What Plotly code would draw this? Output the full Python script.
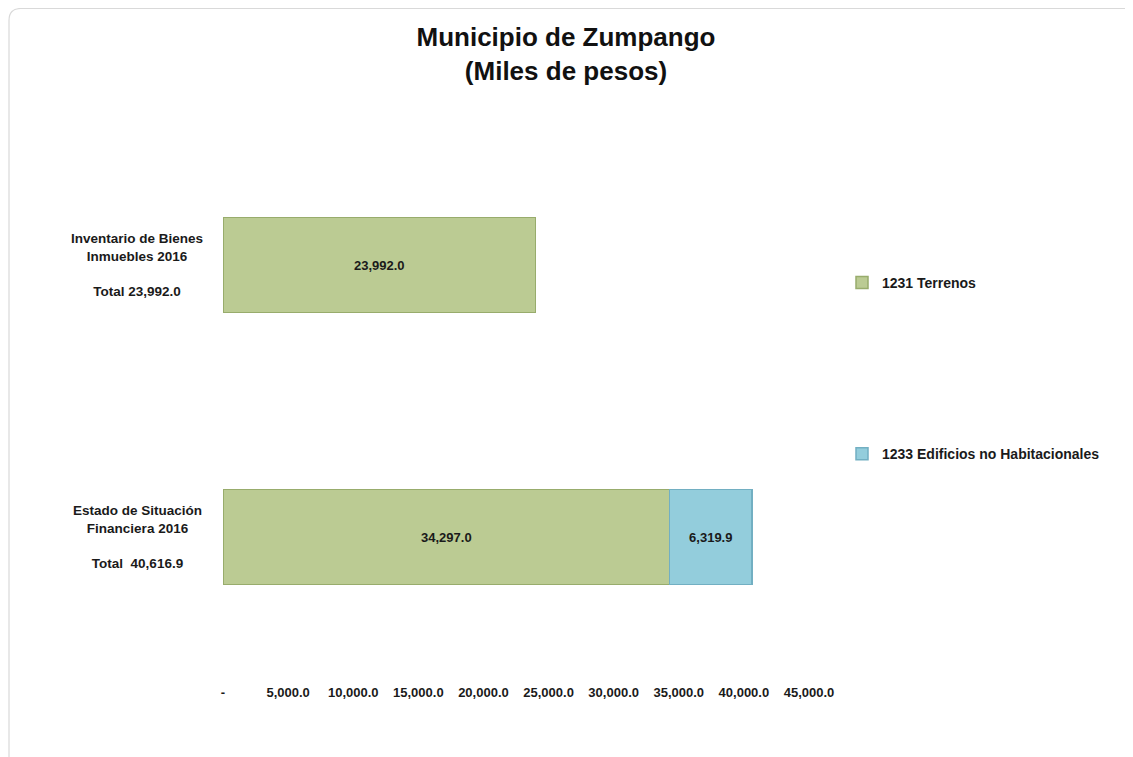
import plotly.graph_objects as go

# ---- data ----
categories = ["Inventario de Bienes<br>Inmuebles 2016", "Estado de Situación<br>Financiera 2016"]
terrenos = [23992.0, 34297.0]
edificios = [None, 6319.9]
series_names = ["1231 Terrenos", "1233 Edificios no Habitacionales"]
tick_vals = [0, 5000, 10000, 15000, 20000, 25000, 30000, 35000, 40000, 45000]
tick_labels = ["-", "5,000.0", "10,000.0", "15,000.0", "20,000.0", "25,000.0",
               "30,000.0", "35,000.0", "40,000.0", "45,000.0"]
total_prefix = ["Total ", "Total  "]

W, H = 1133, 757
OFF = 8  # page body margin offset
L, R, T, B = 223 - OFF, W - (809 - OFF), 129 - OFF, H - (673 - OFF)
pw, ph = W - L - R, H - T - B

FONT = "Liberation Sans Narrow, Arial Narrow, Liberation Sans, Arial, sans-serif"

green = "#BBCB93"
green_edge = "#98AC6C"
blue = "#93CDDC"
blue_edge = "#72AFC2"

fig = go.Figure()
fig.add_trace(go.Bar(
    y=categories, x=terrenos, orientation="h", name="<b>" + series_names[0] + "</b>",
    legendgroup="a",
    marker=dict(color=green, line=dict(color=green_edge, width=1.5)),
    texttemplate="<b>%{x:,.1f}</b>", textposition="inside", insidetextanchor="middle",
    textangle=0, textfont=dict(family=FONT, size=13, color="#1a1a1a"),
))
fig.add_trace(go.Bar(
    y=categories, x=edificios, orientation="h", name="<b>" + series_names[1] + "</b>",
    legendgroup="b",
    marker=dict(color=blue, line=dict(color=blue_edge, width=1.5)),
    texttemplate="<b>%{x:,.1f}</b>", textposition="inside", insidetextanchor="middle",
    textangle=0, textfont=dict(family=FONT, size=13, color="#1a1a1a"),
))

# category labels with totals (centered multi-line)
annotations = []
for i, cat in enumerate(categories):
    tot = (terrenos[i] or 0) + (edificios[i] or 0)
    txt = "<b>" + cat + "<br><br>" + total_prefix[i] + f"{tot:,.1f}" + "</b>"
    annotations.append(dict(
        x=(137 - OFF - L) / pw, xref="paper", y=cat, yref="y",
        text=txt, showarrow=False, align="center", xanchor="center", yanchor="middle",
        font=dict(family=FONT, size=13.5, color="#1a1a1a"),
    ))

# card border (rounded top-left)
x0 = (1 - L) / pw
y0 = (H - 0.5 - B) / ph
x1 = (W + 20 - L) / pw
yb = (-(B) - 20) / ph
rx = 12 / pw
ry = 12 / ph
path = (f"M {x0},{yb} L {x0},{y0 - ry} Q {x0},{y0} {x0 + rx},{y0} L {x1},{y0}")
shapes = [dict(type="path", xref="paper", yref="paper", path=path,
               line=dict(color="#D9D9D9", width=1.2), layer="below")]

fig.update_layout(
    width=W, height=H,
    margin=dict(l=L, r=R, t=T, b=B),
    paper_bgcolor="white", plot_bgcolor="white",
    barmode="stack", bargap=0.65,
    title=dict(text="<b>Municipio de Zumpango<br>(Miles de pesos)</b>",
               x=(566 - OFF) / W, xref="container", xanchor="center",
               y=1 - (46 - OFF) / H, yref="container", yanchor="middle",
               font=dict(family=FONT, size=26, color="#111111")),
    xaxis=dict(range=[0, 45000], tickvals=tick_vals,
               ticktext=["<b>" + t + "</b>" for t in tick_labels],
               showgrid=False, zeroline=False, showline=False, ticks="",
               tickfont=dict(family=FONT, size=13, color="#1a1a1a"),
               ticklabelstandoff=10),
    yaxis=dict(autorange="reversed", showticklabels=False, showgrid=False,
               zeroline=False, showline=False, ticks=""),
    showlegend=True,
    legend=dict(x=(842 - OFF - L) / pw, xanchor="left",
                y=(H - B - (267 - OFF)) / ph, yanchor="top",
                tracegroupgap=150, traceorder="grouped",
                font=dict(family=FONT, size=14, color="#1a1a1a"),
                bgcolor="rgba(0,0,0,0)", itemwidth=30),
    annotations=annotations,
    shapes=shapes,
)

fig.write_html("out.html")
